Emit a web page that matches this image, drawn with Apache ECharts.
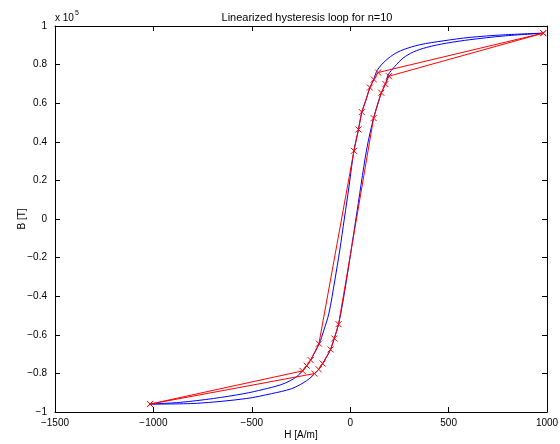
<!DOCTYPE html>
<html>
<head>
<meta charset="utf-8">
<script src="https://cdn.jsdelivr.net/npm/echarts@6/dist/echarts.min.js"></script>
<style>
html,body{margin:0;padding:0;background:#fff;}
#chart{width:560px;height:444px;}
</style>
</head>
<body>
<div id="chart"></div>
<script>
// H [A/m], B [T] (raw values; axis shows x 10^5)
var blueDescH = [981, 777, 608, 472, 354, 269, 218, 167, 134, 120, 100, 80, 59, 42, 19, -5, -30, -53, -78, -108, -135, -157, -201, -221, -242, -270, -305, -356, -442, -540, -695, -864, -1017];
var blueDescB = [96300, 95400, 94100, 92300, 90300, 87700, 85100, 80800, 76500, 72300, 68100, 61500, 55400, 46400, 35500, 17600, 0, -16100, -31700, -48800, -58000, -64500, -73100, -76000, -78700, -81500, -83800, -86000, -88300, -90500, -93000, -95000, -95900];
var blueAscH = [-1017, -780, -526, -400, -300, -240, -205, -182, -160, -140, -120, -99.5, -81, -59, -27, 29, 83, 119, 158, 179, 193, 227, 269, 320, 388, 489, 608, 777, 981];
var blueAscB = [-95900, -95500, -93000, -90500, -88000, -85000, -82500, -80300, -77900, -74900, -71500, -67600, -61900, -54500, -36800, 0, 35700, 52300, 65400, 69900, 74700, 79100, 83400, 86500, 88900, 91100, 92900, 94800, 96300];
var redDescH = [981, 142, 120, 100, 59, 42, 19, -159, -201, -221, -242, -1017];
var redDescB = [96300, 75900, 72300, 68100, 55400, 46400, 35300, -64600, -73100, -76000, -78700, -95900];
var redAscH = [-1017, -182, -160, -140, -99.5, -81, -59, 119, 158, 179, 197, 981];
var redAscB = [-95900, -80100, -77900, -74900, -67600, -61900, -54500, 52300, 65400, 69900, 74000, 96300];
var xTicks = [-1500, -1000, -500, 0, 500, 1000];
var yTicks = [-1, -0.8, -0.6, -0.4, -0.2, 0, 0.2, 0.4, 0.6, 0.8, 1];

function zip(a, b) { return a.map(function (v, i) { return [v, b[i]]; }); }
var FONT = 'Liberation Sans';
var chart = echarts.init(document.getElementById('chart'), null, {renderer: 'canvas'});
function minus(s) { return String(s).replace('-', '\u2212'); }
var baseX = {
  type: 'value', min: xTicks[0], max: xTicks[xTicks.length - 1], interval: 500,
  splitLine: {show: false},
  axisLine: {show: true, onZero: false, lineStyle: {color: '#000', width: 1}},
  axisTick: {show: true, inside: true, length: 5, lineStyle: {color: '#000'}}
};
var baseY = {
  type: 'value', min: yTicks[0] * 1e5, max: yTicks[yTicks.length - 1] * 1e5, interval: 20000,
  splitLine: {show: false},
  axisLine: {show: true, onZero: false, lineStyle: {color: '#000', width: 1}},
  axisTick: {show: true, inside: true, length: 5, lineStyle: {color: '#000'}}
};
var xSym = 'path://M0,0L10,10M10,0L0,10';
function redSeries(H, B) {
  return {
    type: 'line', data: zip(H, B), xAxisIndex: 0, yAxisIndex: 0,
    symbol: xSym, symbolSize: 6, showSymbol: true, showAllSymbol: true,
    lineStyle: {color: '#ff0000', width: 1},
    itemStyle: {color: '#ff0000', borderColor: '#ff0000', borderWidth: 1},
    emphasis: {disabled: true}, z: 3
  };
}
function blueSeries(H, B) {
  return {
    type: 'line', data: zip(H, B), xAxisIndex: 0, yAxisIndex: 0,
    symbol: 'none', smooth: 0.3,
    lineStyle: {color: '#0000ff', width: 1},
    emphasis: {disabled: true}, z: 2
  };
}
chart.setOption({
  animation: false,
  backgroundColor: '#fff',
  textStyle: {fontFamily: FONT},
  title: {
    text: 'Linearized hysteresis loop for n=10', left: 302, top: 7, textAlign: 'center',
    textStyle: {fontFamily: FONT, fontSize: 11, fontWeight: 'normal', color: '#000'}
  },
  grid: {left: 55, right: 13, top: 26, bottom: 32, containLabel: false, outerBoundsMode: 'none'},
  xAxis: [
    Object.assign({}, baseX, {
      position: 'bottom', name: 'H [A/m]', nameLocation: 'middle', nameGap: 18, nameMoveOverlap: false,
      nameTextStyle: {fontFamily: FONT, fontSize: 10, color: '#000'},
      axisLabel: {show: true, margin: 6, fontFamily: FONT, fontSize: 10, color: '#000', formatter: function (v) { return minus(v); }}
    }),
    Object.assign({}, baseX, {position: 'top', axisLabel: {show: false}})
  ],
  yAxis: [
    Object.assign({}, baseY, {
      position: 'left', name: 'B [T]', nameLocation: 'middle', nameGap: 28, nameMoveOverlap: false,
      nameTextStyle: {fontFamily: FONT, fontSize: 10, color: '#000'},
      axisLabel: {show: true, margin: 8, fontFamily: FONT, fontSize: 10, color: '#000',
        formatter: function (v) { var t = Math.round(v / 1e4) / 10; return minus(t); }}
    }),
    Object.assign({}, baseY, {position: 'right', axisLabel: {show: false}})
  ],
  graphic: [{
    type: 'text', left: 55, top: 10,
    style: {
      text: '{a|x 10}{b|5}',
      rich: {
        a: {fontFamily: FONT, fontSize: 10, fill: '#000', verticalAlign: 'bottom'},
        b: {fontFamily: FONT, fontSize: 7, fill: '#000', verticalAlign: 'top', padding: [0, 0, 6, 1]}
      }
    }
  }],
  series: [
    blueSeries(blueDescH, blueDescB),
    blueSeries(blueAscH, blueAscB),
    redSeries(redDescH, redDescB),
    redSeries(redAscH, redAscB)
  ]
});
</script>
</body>
</html>
